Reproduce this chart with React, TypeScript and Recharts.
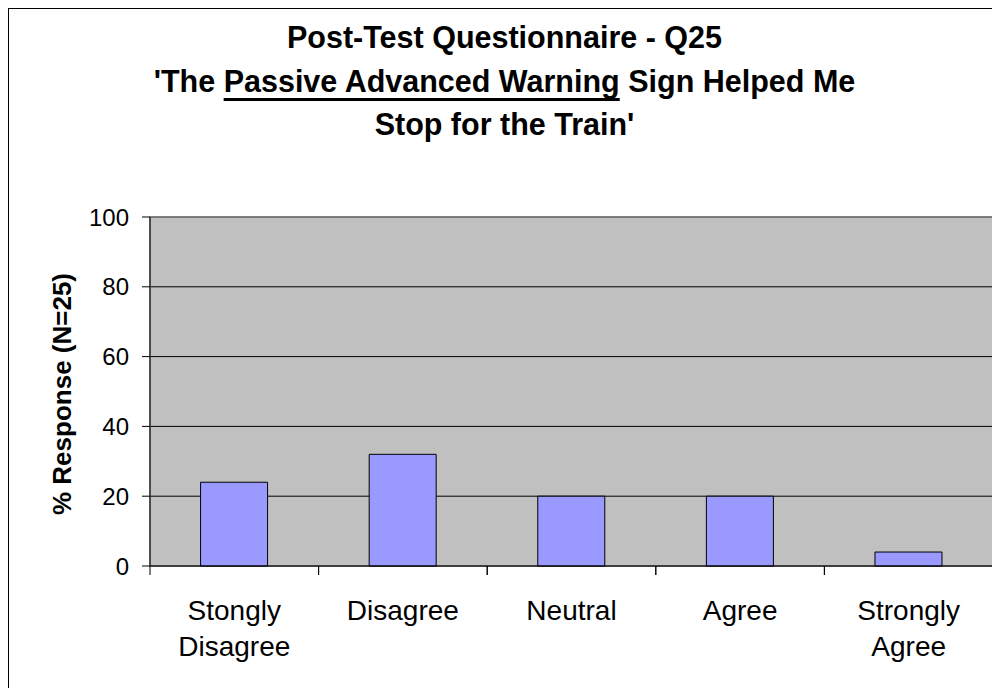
import { BarChart, Bar, XAxis, YAxis, CartesianGrid, ReferenceArea } from "recharts";

const categories = ["Stongly\nDisagree", "Disagree", "Neutral", "Agree", "Strongly\nAgree"];
const responses = [24, 32, 20, 20, 4];
const yTicks = [0, 20, 40, 60, 80, 100];

const data = categories.map((name, i) => ({ name, value: responses[i] }));

const FONT = "'Liberation Sans', Arial, Helvetica, sans-serif";
const CHART_W = 991;
const CHART_H = 679;
const MARGIN = { top: 208, right: 7, bottom: 0, left: 0 };
const Y_AXIS_W = 141;
const X_AXIS_H = 122;
const BAND = (CHART_W - MARGIN.left - MARGIN.right - Y_AXIS_W) / categories.length;

// Excel-style ticks between categories instead of under them
function CategoryTick(props: any) {
  const { x, y, payload } = props;
  const lines = String(payload.value).split("\n");
  const left = x - BAND / 2;
  const right = x + BAND / 2;
  return (
    <g>
      <line x1={left} y1={y} x2={left} y2={y + 9} stroke="#000" />
      <line x1={right} y1={y} x2={right} y2={y + 9} stroke="#000" />
      <text x={x} y={y} textAnchor="middle" fontSize={28} fontFamily={FONT} fill="#000">
        {lines.map((l, i) => (
          <tspan key={i} x={x} y={y + 54 + i * 36}>
            {l}
          </tspan>
        ))}
      </text>
    </g>
  );
}

export default function App() {
  return (
    <div
      style={{
        position: "relative",
        width: 992,
        height: 680,
        boxSizing: "border-box",
        borderTop: "1px solid #000",
        borderLeft: "1px solid #000",
        background: "#fff",
        fontFamily: FONT,
        overflow: "hidden",
      }}
    >
      <div
        style={{
          position: "absolute",
          top: 7,
          left: 0,
          width: CHART_W,
          textAlign: "center",
          fontWeight: "bold",
          fontSize: 30.5,
          lineHeight: "43.5px",
          color: "#000",
        }}
      >
        <div>Post-Test Questionnaire - Q25</div>
        <div>
          'The{" "}
          <span
            style={{
              textDecoration: "underline",
              textDecorationThickness: 3,
              textUnderlineOffset: 6,
              textDecorationSkipInk: "none",
            }}
          >
            Passive Advanced Warning
          </span>{" "}
          Sign Helped Me
        </div>
        <div>Stop for the Train'</div>
      </div>
      <div style={{ position: "absolute", left: 53, top: 385, width: 0, height: 0 }}>
        <div
          style={{
            position: "absolute",
            transform: "translate(-50%, -50%) rotate(-90deg)",
            whiteSpace: "nowrap",
            fontWeight: "bold",
            fontSize: 26,
            color: "#000",
          }}
        >
          % Response (N=25)
        </div>
      </div>
      <BarChart width={CHART_W} height={CHART_H} data={data} margin={MARGIN} barCategoryGap="30%">
        <CartesianGrid vertical={false} stroke="#000" fill="#C0C0C0" fillOpacity={1} />
        <ReferenceArea y1={0} y2={100} fill="none" fillOpacity={0} stroke="#808080" strokeWidth={1.5} ifOverflow="visible" />
        <XAxis
          dataKey="name"
          interval={0}
          height={X_AXIS_H}
          tickLine={false}
          tickSize={0}
          tickMargin={0}
          axisLine={{ stroke: "#000" }}
          tick={<CategoryTick />}
        />
        <YAxis
          width={Y_AXIS_W}
          domain={[0, 100]}
          ticks={yTicks}
          interval={0}
          tickSize={8}
          tickMargin={13}
          axisLine={{ stroke: "#000" }}
          tickLine={{ stroke: "#000" }}
          tick={{ fontSize: 24, fill: "#000", fontFamily: FONT }}
        />
        <Bar dataKey="value" fill="#9999FF" stroke="#000" strokeWidth={1} isAnimationActive={false} />
      </BarChart>
    </div>
  );
}
